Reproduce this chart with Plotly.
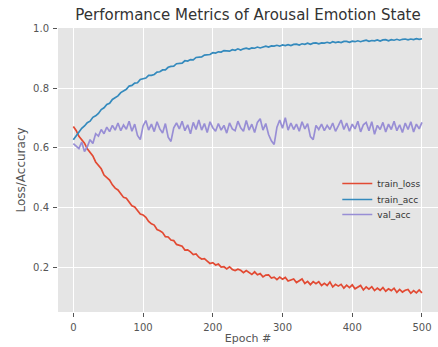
import plotly.graph_objects as go

# ---- data (every 4th epoch) ----
epochs = list(range(0, 501, 4))

train_loss = [
    0.672, 0.659, 0.639, 0.628, 0.616, 0.597, 0.584, 0.573, 0.553, 0.541,
    0.530, 0.509, 0.500, 0.492, 0.476, 0.465, 0.459, 0.448, 0.434, 0.431,
    0.417, 0.406, 0.402, 0.390, 0.378, 0.375, 0.367, 0.353, 0.345, 0.341,
    0.326, 0.322, 0.316, 0.302, 0.301, 0.291, 0.289, 0.276, 0.273, 0.270,
    0.257, 0.258, 0.251, 0.242, 0.244, 0.233, 0.227, 0.228, 0.220, 0.212,
    0.215, 0.207, 0.210, 0.200, 0.201, 0.194, 0.201, 0.192, 0.188, 0.193,
    0.189, 0.181, 0.188, 0.181, 0.175, 0.184, 0.174, 0.178, 0.167, 0.173,
    0.174, 0.163, 0.166, 0.158, 0.166, 0.159, 0.165, 0.153, 0.156, 0.160,
    0.148, 0.155, 0.160, 0.145, 0.152, 0.141, 0.151, 0.144, 0.151, 0.138,
    0.145, 0.138, 0.150, 0.133, 0.142, 0.136, 0.142, 0.129, 0.139, 0.131,
    0.140, 0.127, 0.134, 0.138, 0.123, 0.133, 0.126, 0.134, 0.121, 0.129,
    0.122, 0.131, 0.119, 0.127, 0.121, 0.129, 0.115, 0.125, 0.116, 0.122,
    0.125, 0.112, 0.121, 0.113, 0.123, 0.113,
]

train_acc = [
    0.628, 0.641, 0.650, 0.666, 0.674, 0.685, 0.690, 0.703, 0.708, 0.716,
    0.729, 0.735, 0.746, 0.750, 0.763, 0.770, 0.775, 0.786, 0.791, 0.797,
    0.808, 0.810, 0.818, 0.819, 0.830, 0.833, 0.835, 0.844, 0.844, 0.847,
    0.855, 0.856, 0.862, 0.862, 0.871, 0.874, 0.875, 0.883, 0.883, 0.885,
    0.893, 0.892, 0.897, 0.896, 0.904, 0.906, 0.906, 0.912, 0.912, 0.914,
    0.920, 0.919, 0.923, 0.922, 0.927, 0.927, 0.925, 0.930, 0.928, 0.933,
    0.929, 0.933, 0.935, 0.932, 0.936, 0.935, 0.939, 0.936, 0.940, 0.942,
    0.939, 0.943, 0.942, 0.945, 0.942, 0.946, 0.944, 0.947, 0.944, 0.948,
    0.949, 0.946, 0.950, 0.948, 0.952, 0.948, 0.952, 0.953, 0.950, 0.953,
    0.952, 0.955, 0.952, 0.957, 0.954, 0.956, 0.954, 0.958, 0.958, 0.955,
    0.959, 0.957, 0.960, 0.957, 0.960, 0.962, 0.958, 0.961, 0.960, 0.963,
    0.959, 0.963, 0.964, 0.960, 0.964, 0.962, 0.965, 0.962, 0.965, 0.966,
    0.963, 0.966, 0.964, 0.967, 0.965, 0.967,
]

val_acc = [
    0.615, 0.608, 0.598, 0.620, 0.588, 0.604, 0.628, 0.615, 0.648, 0.640,
    0.662, 0.648, 0.670, 0.655, 0.676, 0.660, 0.684, 0.658, 0.677, 0.663,
    0.690, 0.656, 0.680, 0.642, 0.628, 0.674, 0.692, 0.660, 0.680, 0.655,
    0.688, 0.664, 0.650, 0.682, 0.636, 0.622, 0.668, 0.684, 0.664, 0.690,
    0.658, 0.678, 0.648, 0.686, 0.662, 0.694, 0.660, 0.682, 0.652, 0.688,
    0.668, 0.656, 0.682, 0.660, 0.676, 0.650, 0.684, 0.664, 0.658, 0.690,
    0.668, 0.656, 0.692, 0.660, 0.680, 0.652, 0.686, 0.698, 0.660, 0.682,
    0.645, 0.624, 0.612, 0.670, 0.694, 0.666, 0.702, 0.660, 0.684, 0.662,
    0.680, 0.656, 0.688, 0.664, 0.682, 0.638, 0.628, 0.676, 0.662, 0.680,
    0.658, 0.676, 0.662, 0.684, 0.656, 0.674, 0.694, 0.662, 0.684, 0.656,
    0.680, 0.664, 0.690, 0.654, 0.678, 0.686, 0.658, 0.688, 0.646, 0.676,
    0.662, 0.686, 0.654, 0.680, 0.662, 0.690, 0.658, 0.678, 0.652, 0.684,
    0.662, 0.688, 0.654, 0.680, 0.664, 0.686,
]

x_ticks = [0, 100, 200, 300, 400, 500]
y_ticks = [0.2, 0.4, 0.6, 0.8, 1.0]
y_tick_labels = ["0.2", "0.4", "0.6", "0.8", "1.0"]

series = [
    ("train_loss", train_loss, "#E24A33", "legend"),
    ("train_acc", train_acc, "#348ABD", "legend2"),
    ("val_acc", val_acc, "#988ED5", "legend3"),
]

FONT = "DejaVu Sans"

fig = go.Figure()
for name, vals, col, leg in series:
    fig.add_trace(go.Scatter(x=epochs, y=vals, mode="lines", name=name,
                             legend=leg,
                             line=dict(color=col, width=1.7)))

def legend_box(ytop):
    return dict(x=0.735, y=ytop, xanchor="left", yanchor="top",
                bgcolor="rgba(0,0,0,0)", borderwidth=0,
                font=dict(family=FONT, size=9, color="#333333"))

fig.update_layout(
    width=438, height=347,
    margin=dict(l=58, r=0, t=28, b=35),
    paper_bgcolor="white",
    plot_bgcolor="#E5E5E5",
    font=dict(family=FONT, color="#555555", size=10),
    title=dict(text="Performance Metrics of Arousal Emotion State",
               x=0.5, xref="paper", xanchor="center",
               y=1 - 15 / 347, yref="container", yanchor="middle",
               font=dict(family=FONT, size=15, color="#333333")),
    showlegend=True,
    legend=legend_box(0.5035),
    legend2=legend_box(0.4472),
    legend3=legend_box(0.3944),
)

fig.update_xaxes(
    range=[-22, 523], tickvals=x_ticks, ticks="outside", ticklen=4,
    tickcolor="#555555", showgrid=True, gridcolor="white", gridwidth=1,
    zeroline=False, showline=False, automargin=False, ticklabelstandoff=2,
    tickfont=dict(family=FONT, size=10, color="#555555"),
    title=dict(text="Epoch #", font=dict(family=FONT, size=11, color="#555555"),
               standoff=2),
)
fig.update_yaxes(
    range=[0.049, 1.003], tickvals=y_ticks, ticktext=y_tick_labels,
    ticks="outside", ticklen=4, automargin=False, ticklabelstandoff=2,
    tickcolor="#555555", showgrid=True, gridcolor="white", gridwidth=1,
    zeroline=False, showline=False,
    tickfont=dict(family=FONT, size=10, color="#555555"),
    title=dict(text="Loss/Accuracy", font=dict(family=FONT, size=12, color="#555555"),
               standoff=4),
)

fig.write_html("out.html",
               config={"displayModeBar": False},
               post_script="document.body.style.margin='0';document.body.style.padding='0';")
